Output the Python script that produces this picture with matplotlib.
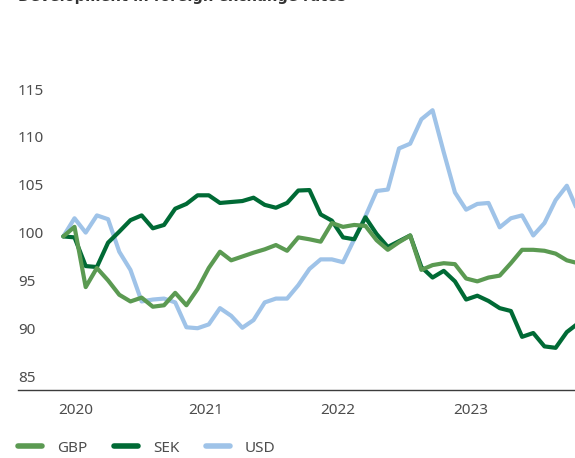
import numpy as np
import matplotlib
matplotlib.use('Agg')
import matplotlib.pyplot as plt
from matplotlib.lines import Line2D

plt.rcParams['font.family'] = ['Noto Sans', 'DejaVu Sans']

# index values, first point = start of 2020
gbp = [99.6, 100.6, 94.3, 96.3, 95.0, 93.5, 92.8, 93.2, 92.25, 92.4,
       93.7, 92.4, 94.1, 96.3, 98.0, 97.1, 97.5, 97.9, 98.25, 98.7,
       98.1, 99.5, 99.3, 99.05, 101.0, 100.6, 100.8, 100.7, 99.2, 98.2,
       99.0, 99.7, 96.1, 96.6, 96.8, 96.7, 95.2, 94.9, 95.3, 95.5,
       96.8, 98.2, 98.2, 98.1, 97.8, 97.1, 96.8]
sek = [99.6, 99.5, 96.5, 96.4, 98.95, 100.1, 101.3, 101.8, 100.45, 100.8,
       102.5, 103.0, 103.9, 103.9, 103.1, 103.2, 103.3, 103.65, 102.9, 102.6,
       103.1, 104.4, 104.45, 101.9, 101.25, 99.5, 99.3, 101.6, 99.85, 98.5,
       99.1, 99.7, 96.4, 95.3, 96.0, 94.9, 93.0, 93.4, 92.85, 92.1,
       91.8, 89.1, 89.5, 88.1, 87.95, 89.6, 90.5]
usd = [99.6, 101.5, 100.0, 101.8, 101.4, 98.0, 96.1, 92.8, 93.0, 93.1,
       92.7, 90.1, 90.0, 90.4, 92.1, 91.3, 90.05, 90.85, 92.7, 93.1,
       93.1, 94.5, 96.2, 97.2, 97.2, 96.9, 99.3, 101.7, 104.35, 104.5,
       108.8, 109.3, 111.85, 112.8, 108.4, 104.2, 102.4, 103.0, 103.1, 100.55,
       101.5, 101.8, 99.7, 101.0, 103.4, 104.9, 102.2]

year_pos = [1.13, 12.75, 24.55, 36.37]
year_labels = ['2020', '2021', '2022', '2023']
y_ticks = [85, 90, 95, 100, 105, 110, 115]

c_gbp = '#5b9a52'
c_sek = '#006a35'
c_usd = '#9fc3e8'
txt = '#4d4d4d'

W, H = 575, 458
fig = plt.figure(figsize=(W / 100, H / 100), dpi=100)
ax = fig.add_axes([18 / W, (H - 390) / H, (W - 18) / W, (390 - 60) / H])

x = np.arange(len(gbp))
ax.plot(x, usd, color=c_usd, lw=3.0, zorder=1, solid_capstyle='round')
ax.plot(x, sek, color=c_sek, lw=3.0, zorder=2, solid_capstyle='round')
ax.plot(x, gbp, color=c_gbp, lw=3.0, zorder=3, solid_capstyle='round')

ax.set_xlim(-4.05, 45.73)
ax.set_ylim(83.54, 118.05)

for s in ['top', 'right', 'left']:
    ax.spines[s].set_visible(False)
ax.spines['bottom'].set_color('#3c3c3c')
ax.spines['bottom'].set_linewidth(1.0)

ax.set_yticks(y_ticks)
ax.set_yticklabels([str(v) for v in y_ticks])
ax.tick_params(axis='y', length=0, pad=0, labelsize=11, labelcolor=txt)
for lab in ax.get_yticklabels():
    lab.set_horizontalalignment('left')

ax.set_xticks(year_pos)
ax.set_xticklabels(year_labels)
ax.tick_params(axis='x', length=0, pad=9.5, labelsize=11, labelcolor=txt)

# title sits mostly above the visible area, as in the source image
fig.text(18 / W, 1 - 1 / H, 'Development in foreign exchange rates',
         fontsize=10.5, fontweight='bold', family='DejaVu Sans',
         color='#333333', va='baseline', ha='left')

handles = [Line2D([], [], color=c, lw=4.0, solid_capstyle='round')
           for c in (c_gbp, c_sek, c_usd)]
fig.legend(handles=handles, labels=['GBP', 'SEK', 'USD'],
           ncol=3, loc='center left', bbox_to_anchor=(18 / W, 1 - 448 / H),
           frameon=False, borderpad=0, borderaxespad=0, handlelength=1.55,
           handletextpad=1.0, columnspacing=1.75, fontsize=11, labelcolor=txt)

fig.savefig('out.png', dpi=100)
